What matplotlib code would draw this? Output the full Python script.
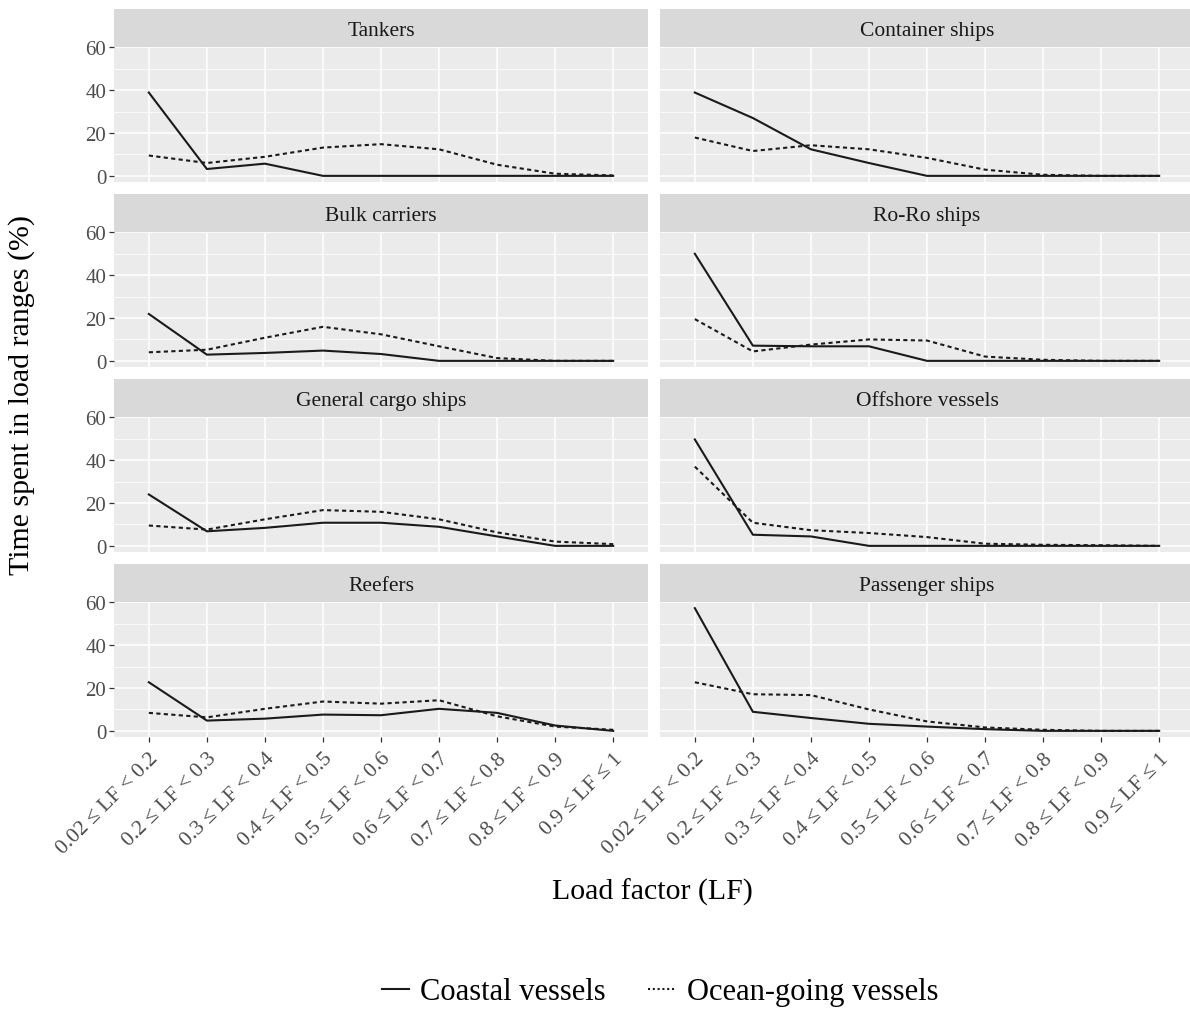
import matplotlib
matplotlib.use("Agg")
import matplotlib.pyplot as plt
from matplotlib.lines import Line2D
import numpy as np

plt.rcParams['font.family'] = ['Liberation Serif', 'DejaVu Serif']

categories = ["0.02 ≤ LF < 0.2", "0.2 ≤ LF < 0.3", "0.3 ≤ LF < 0.4", "0.4 ≤ LF < 0.5",
              "0.5 ≤ LF < 0.6", "0.6 ≤ LF < 0.7", "0.7 ≤ LF < 0.8", "0.8 ≤ LF < 0.9",
              "0.9 ≤ LF ≤ 1"]
panels = ["Tankers", "Container ships", "Bulk carriers", "Ro-Ro ships",
          "General cargo ships", "Offshore vessels", "Reefers", "Passenger ships"]

tankers_coastal = [38.9, 3.2, 5.7, 0, 0, 0, 0, 0, 0]
tankers_ocean = [9.5, 6.0, 8.9, 13.2, 14.8, 12.4, 5.2, 1.0, 0.2]
container_coastal = [38.9, 27.0, 12.4, 6.0, 0, 0, 0, 0, 0]
container_ocean = [17.9, 11.6, 14.3, 12.4, 8.4, 2.9, 0.5, 0, 0]
bulk_coastal = [21.9, 2.9, 3.7, 4.8, 3.2, 0, 0, 0, 0]
bulk_ocean = [4.0, 5.2, 10.8, 15.9, 12.4, 6.8, 1.3, 0, 0]
roro_coastal = [50.0, 7.1, 6.8, 6.8, 0, 0, 0, 0, 0]
roro_ocean = [19.5, 4.4, 7.6, 10.0, 9.5, 2.0, 0.5, 0, 0]
gc_coastal = [24.0, 6.8, 8.4, 10.8, 10.8, 8.9, 4.4, 0, 0]
gc_ocean = [9.5, 7.6, 12.4, 16.7, 15.9, 12.4, 6.3, 2.0, 0.8]
offshore_coastal = [49.7, 5.2, 4.4, 0, 0, 0, 0, 0, 0]
offshore_ocean = [37.0, 10.8, 7.3, 6.0, 4.1, 1.0, 0.5, 0.3, 0]
reefer_coastal = [22.7, 4.8, 5.7, 7.6, 7.3, 10.3, 8.4, 2.5, 0]
reefer_ocean = [8.4, 6.3, 10.3, 13.7, 12.7, 14.3, 6.8, 2.0, 0.5]
passenger_coastal = [57.3, 8.9, 6.0, 3.3, 2.0, 0.8, 0, 0, 0]
passenger_ocean = [22.7, 17.1, 16.7, 10.0, 4.4, 1.6, 0.5, 0, 0]

coastal = [tankers_coastal, container_coastal, bulk_coastal, roro_coastal,
           gc_coastal, offshore_coastal, reefer_coastal, passenger_coastal]
ocean = [tankers_ocean, container_ocean, bulk_ocean, roro_ocean,
         gc_ocean, offshore_ocean, reefer_ocean, passenger_ocean]

W, H = 1190, 1012
fig = plt.figure(figsize=(W / 100, H / 100), dpi=100)
fig.patch.set_facecolor("white")

ymax = max(max(s) for s in coastal + ocean)
ylim = (-0.05 * ymax, ymax * 1.05)
x = np.arange(len(categories))

col_x = [114, 660]
pw = 534
ph = 135
sh = 38
pitch = 185
dash = (0, (2.0, 1.6))

for i, name in enumerate(panels):
    r, c = divmod(i, 2)
    stop = 10 + pitch * r
    ptop = stop + sh
    ax = fig.add_axes([col_x[c] / W, 1 - (ptop + ph) / H, pw / W, ph / H])
    sax = fig.add_axes([col_x[c] / W, 1 - (stop + sh) / H, pw / W, sh / H])
    sax.set_facecolor("#D9D9D9")
    sax.set_xticks([]); sax.set_yticks([])
    for s in sax.spines.values():
        s.set_visible(False)
    sax.text(0.5, 0.44, name, ha="center", va="center", fontsize=15.5,
             color="#1A1A1A", transform=sax.transAxes)

    ax.set_facecolor("#EBEBEB")
    for s in ax.spines.values():
        s.set_visible(False)
    ax.set_xlim(-0.6, len(categories) - 1 + 0.6)
    ax.set_ylim(*ylim)
    ax.set_yticks([0, 20, 40, 60])
    ax.set_yticks([10, 30, 50], minor=True)
    ax.set_xticks(x)
    ax.grid(True, which="major", color="white", lw=1.1)
    ax.grid(True, which="minor", axis="y", color="white", lw=0.55)
    ax.set_axisbelow(True)
    ax.tick_params(axis="both", which="major", length=3.5, width=0.9,
                   color="#333333", labelcolor="#4D4D4D", labelsize=15, pad=2)
    ax.tick_params(axis="x", which="major", labelsize=15.5, pad=5)
    ax.tick_params(axis="y", which="minor", length=0)
    if c == 0:
        ax.set_yticklabels(["0", "20", "40", "60"])
    else:
        ax.tick_params(axis="y", which="both", left=False, labelleft=False)
    if r == 3:
        ax.set_xticklabels(categories, rotation=45, ha="right", va="top",
                           rotation_mode="anchor")
    else:
        ax.tick_params(axis="x", bottom=False, labelbottom=False)

    ax.plot(x, coastal[i], color="#1A1A1A", lw=1.5, solid_joinstyle="round")
    ax.plot(x, ocean[i], color="#1A1A1A", lw=1.5, linestyle=dash)

fig.text(652 / W, 1 - 892 / H, "Load factor (LF)", ha="center", va="center",
         fontsize=21.5, color="black")
fig.text(22 / W, 1 - 395 / H, "Time spent in load ranges (%)", ha="center",
         va="center", rotation=90, fontsize=21.5, color="black")

handles = [Line2D([], [], color="#1A1A1A", lw=1.5),
           Line2D([], [], color="#1A1A1A", lw=1.5, linestyle=(0, (1, 1.3)))]
fig.legend(handles, ["Coastal vessels", "Ocean-going vessels"], ncol=2,
           loc="center", bbox_to_anchor=(660 / W, 1 - 993 / H), frameon=False,
           fontsize=22, handlelength=0.9, handletextpad=0.35, columnspacing=1.4)

fig.savefig("out.png", dpi=100)
